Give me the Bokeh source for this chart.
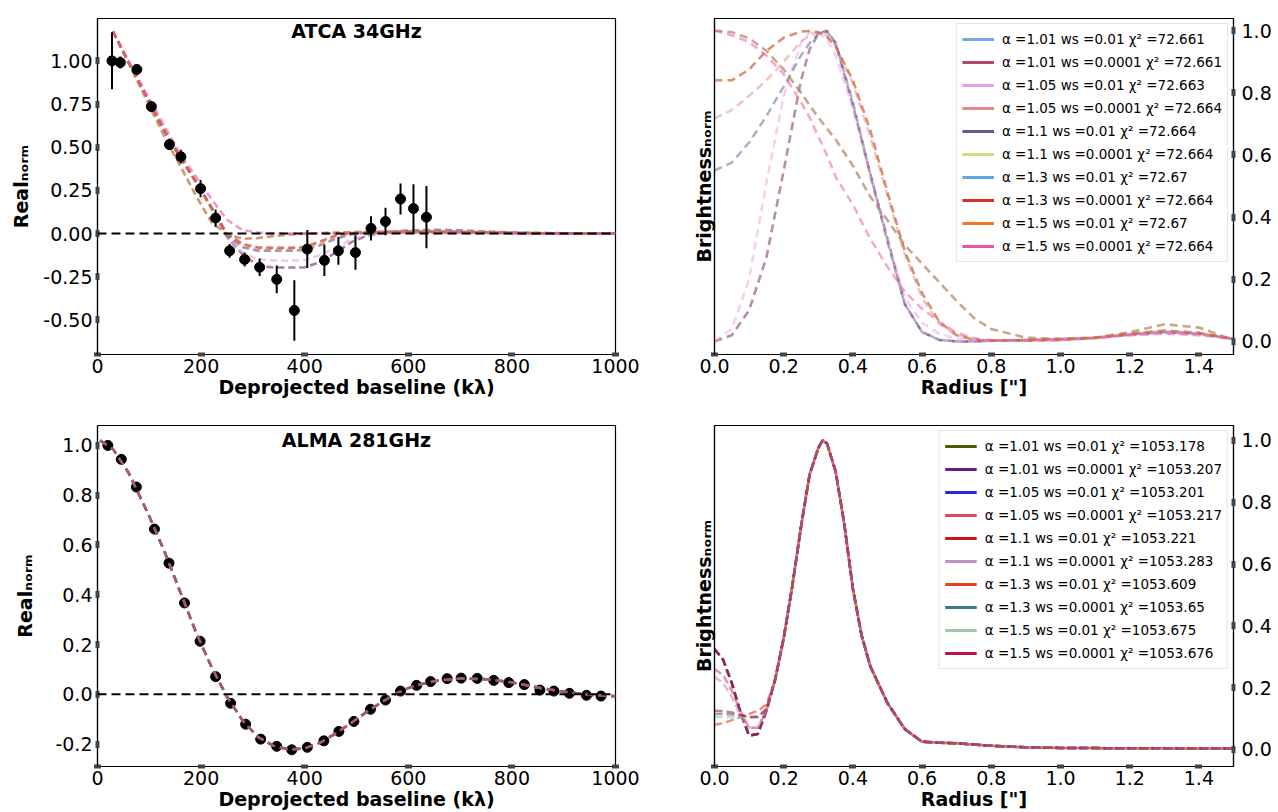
from bokeh.plotting import figure
from bokeh.layouts import column, row
from bokeh.models import (Range1d, FixedTicker, CustomJSTickFormatter, LinearAxis,
                          Span, Label, Legend, LegendItem, ColumnDataSource)
from bokeh.embed import file_html
from bokeh.resources import INLINE

FONT = "DejaVu Sans"

# ---------------- tick labels ----------------
vis_xticks = [0, 200, 400, 600, 800, 1000]
atca_yticks = [-0.5, -0.25, 0.0, 0.25, 0.5, 0.75, 1.0, 1.25]
alma_yticks = [-0.2, 0.0, 0.2, 0.4, 0.6, 0.8, 1.0]
rad_xticks = [0.0, 0.2, 0.4, 0.6, 0.8, 1.0, 1.2, 1.4]
bri_yticks = [0.0, 0.2, 0.4, 0.6, 0.8, 1.0]

# ---------------- legend texts ----------------
fit_alpha = ["1.01", "1.01", "1.05", "1.05", "1.1", "1.1", "1.3", "1.3", "1.5", "1.5"]
fit_ws = ["0.01", "0.0001", "0.01", "0.0001", "0.01", "0.0001", "0.01", "0.0001", "0.01", "0.0001"]
atca_chi2 = ["72.661", "72.661", "72.663", "72.664", "72.664", "72.664", "72.67", "72.664", "72.67", "72.664"]
alma_chi2 = ["1053.178", "1053.207", "1053.201", "1053.217", "1053.221", "1053.283",
             "1053.609", "1053.65", "1053.675", "1053.676"]
atca_colors = ["#70a8e8", "#b84868", "#eaa0e6", "#e08a8a", "#5c5e90",
               "#c8e080", "#60a8e0", "#d83020", "#f07820", "#f050a0"]
alma_colors = ["#4e5a00", "#6a1a8c", "#2828e0", "#d84860", "#c81810",
               "#c090c8", "#e84020", "#3a7890", "#a0c8a8", "#c0104c"]

# ---------------- ATCA 34GHz data ----------------
atca_u = [28, 44, 76, 104, 139, 161, 199, 228, 255, 284, 313, 346, 380, 405, 438, 465,
          498, 528, 556, 585, 610, 635]
atca_re = [1.00, 0.99, 0.95, 0.735, 0.515, 0.445, 0.26, 0.09, -0.10, -0.15, -0.195, -0.265,
           -0.445, -0.09, -0.155, -0.10, -0.11, 0.03, 0.07, 0.20, 0.145, 0.095]
atca_err = [0.165, 0.035, 0.03, 0.03, 0.03, 0.04, 0.05, 0.05, 0.04, 0.04, 0.05, 0.08,
            0.175, 0.11, 0.09, 0.08, 0.10, 0.07, 0.08, 0.09, 0.14, 0.18]

# ATCA model visibilities
atca_mod_u = [30, 60, 100, 130, 160, 190, 220, 250, 280, 310, 340, 370, 400, 430, 460, 490,
              520, 560, 600, 650, 700, 800, 900, 1000]
vis_deep = [1.17, 0.99, 0.76, 0.59, 0.44, 0.30, 0.15, -0.02, -0.12, -0.185, -0.197, -0.197,
            -0.195, -0.165, -0.11, -0.05, -0.012, 0.008, 0.018, 0.022, 0.018, 0.006, 0.002, 0.0]
vis_violet = [1.17, 0.99, 0.76, 0.59, 0.44, 0.30, 0.15, -0.015, -0.11, -0.15, -0.156, -0.157,
              -0.153, -0.125, -0.08, -0.035, -0.008, 0.006, 0.013, 0.015, 0.012, 0.005, 0.001, 0.0]
vis_slate = [1.17, 0.99, 0.76, 0.59, 0.44, 0.30, 0.15, -0.01, -0.08, -0.10, -0.10, -0.10,
             -0.095, -0.068, -0.03, -0.005, 0.005, 0.01, 0.012, 0.012, 0.01, 0.004, 0.001, 0.0]
vis_salmon = [1.17, 0.99, 0.76, 0.59, 0.44, 0.30, 0.15, -0.005, -0.07, -0.088, -0.09, -0.09,
              -0.085, -0.055, -0.018, 0.0, 0.006, 0.009, 0.01, 0.01, 0.008, 0.003, 0.001, 0.0]
vis_mid = [1.17, 0.99, 0.76, 0.59, 0.44, 0.30, 0.15, 0.0, -0.06, -0.08, -0.082, -0.082,
           -0.078, -0.045, -0.01, 0.003, 0.006, 0.008, 0.009, 0.009, 0.007, 0.003, 0.001, 0.0]
vis_broad = [1.17, 0.99, 0.74, 0.555, 0.39, 0.22, 0.065, -0.005, -0.03, -0.026, -0.014, -0.006,
             -0.001, 0.003, 0.006, 0.008, 0.01, 0.012, 0.013, 0.013, 0.01, 0.004, 0.001, 0.0]
vis_pink = [1.17, 1.00, 0.78, 0.62, 0.46, 0.33, 0.20, 0.08, 0.02, 0.006, 0.002, 0.0, 0.0, 0.0,
            0.001, 0.003, 0.004, 0.005, 0.005, 0.004, 0.003, 0.001, 0.0, 0.0]
atca_vis_models = [vis_deep, vis_deep, vis_violet, vis_salmon, vis_slate,
                   vis_mid, vis_broad, vis_mid, vis_broad, vis_pink]

# ATCA brightness profiles
atca_r = [0.0, 0.05, 0.1, 0.15, 0.2, 0.25, 0.275, 0.3, 0.325, 0.35, 0.4, 0.45, 0.5, 0.55,
          0.6, 0.65, 0.7, 0.75, 0.8, 0.9, 1.0, 1.1, 1.2, 1.3, 1.4, 1.5]
bri_narrow = [0.0, 0.02, 0.10, 0.27, 0.55, 0.84, 0.94, 0.99, 1.0, 0.96, 0.76, 0.54, 0.33, 0.12,
              0.03, 0.005, 0.0, 0.0, 0.002, 0.005, 0.008, 0.012, 0.022, 0.03, 0.025, 0.008]
bri_violet = [0.0, 0.04, 0.20, 0.51, 0.79, 0.96, 0.995, 0.995, 0.97, 0.92, 0.75, 0.53, 0.33,
              0.14, 0.06, 0.025, 0.008, 0.003, 0.003, 0.006, 0.008, 0.012, 0.02, 0.028, 0.022, 0.008]
bri_slate = [0.55, 0.575, 0.64, 0.725, 0.82, 0.92, 0.96, 0.99, 0.998, 0.96, 0.77, 0.54, 0.32,
             0.12, 0.03, 0.005, 0.0, 0.0, 0.002, 0.005, 0.008, 0.012, 0.022, 0.03, 0.025, 0.008]
bri_salmon = [0.717, 0.745, 0.79, 0.84, 0.90, 0.965, 0.985, 0.995, 0.985, 0.95, 0.83, 0.66, 0.47,
              0.28, 0.14, 0.055, 0.02, 0.007, 0.003, 0.003, 0.005, 0.012, 0.024, 0.034, 0.027, 0.008]
bri_yg = [0.84, 0.84, 0.875, 0.935, 0.977, 0.997, 0.999, 0.995, 0.98, 0.95, 0.84, 0.68, 0.48,
          0.29, 0.155, 0.063, 0.02, 0.006, 0.003, 0.003, 0.005, 0.012, 0.025, 0.035, 0.028, 0.008]
bri_broad = [1.0, 0.995, 0.975, 0.935, 0.875, 0.80, 0.76, 0.72, 0.685, 0.65, 0.565, 0.466, 0.39,
             0.31, 0.25, 0.19, 0.13, 0.075, 0.04, 0.012, 0.008, 0.012, 0.03, 0.055, 0.045, 0.005]
bri_pink = [1.0, 0.985, 0.963, 0.92, 0.86, 0.77, 0.72, 0.66, 0.60, 0.53, 0.44, 0.33, 0.24, 0.16,
            0.105, 0.063, 0.028, 0.01, 0.004, 0.002, 0.004, 0.01, 0.02, 0.025, 0.02, 0.008]
atca_bri_models = [bri_narrow, bri_narrow, bri_violet, bri_salmon, bri_slate,
                   bri_yg, bri_broad, bri_yg, bri_broad, bri_pink]

# ---------------- ALMA 281GHz data ----------------
alma_u = [20, 46, 75, 110, 138, 168, 198, 228, 257, 286, 315, 346, 375, 405, 437, 466, 495,
          527, 556, 585, 616, 643, 675, 702, 733, 765, 794, 824, 854, 881, 911, 944, 972]
alma_re = [1.00, 0.944, 0.833, 0.664, 0.527, 0.367, 0.213, 0.071, -0.036, -0.12, -0.18, -0.209,
           -0.223, -0.213, -0.187, -0.149, -0.109, -0.06, -0.023, 0.013, 0.036, 0.051, 0.063,
           0.065, 0.064, 0.056, 0.047, 0.039, 0.017, 0.013, 0.004, -0.004, -0.007]
alma_mod_u = [5, 30, 60, 100, 130, 160, 190, 220, 250, 280, 310, 340, 370, 400, 430, 460, 490,
              520, 550, 580, 610, 650, 700, 750, 800, 850, 900, 950, 1000]
alma_mod_re = [1.02, 0.985, 0.89, 0.715, 0.57, 0.41, 0.25, 0.11, -0.01, -0.105, -0.172, -0.207,
               -0.222, -0.217, -0.194, -0.157, -0.115, -0.07, -0.03, 0.007, 0.033, 0.053, 0.064,
               0.061, 0.048, 0.027, 0.01, -0.002, -0.008]

alma_r = [0.0, 0.025, 0.05, 0.075, 0.1, 0.125, 0.15, 0.175, 0.2, 0.225, 0.25, 0.275, 0.3, 0.3125,
          0.325, 0.35, 0.375, 0.4, 0.425, 0.45, 0.5, 0.55, 0.6, 0.65, 0.7, 0.8, 0.9, 1.0, 1.2, 1.5]
alma_bri_core = [0.225, 0.36, 0.53, 0.72, 0.89, 0.975, 1.0, 0.99, 0.90, 0.73, 0.52, 0.37, 0.27,
                 0.15, 0.066, 0.025, 0.022, 0.02, 0.012, 0.007, 0.005, 0.004, 0.003]
alma_centre_peaked = [0.325, 0.29, 0.215, 0.12, 0.045, 0.05, 0.125]
alma_centre_a105 = [0.26, 0.24, 0.19, 0.125, 0.07, 0.07, 0.125]
alma_centre_a110 = [0.235, 0.215, 0.17, 0.11, 0.07, 0.072, 0.125]
alma_centre_a13a = [0.08, 0.085, 0.095, 0.105, 0.115, 0.125, 0.145]
alma_centre_a13b = [0.115, 0.115, 0.113, 0.11, 0.105, 0.105, 0.13]
alma_centre_a15a = [0.105, 0.105, 0.105, 0.104, 0.103, 0.107, 0.13]
alma_centre_a15b = [0.125, 0.124, 0.12, 0.112, 0.105, 0.105, 0.13]
alma_centres = [alma_centre_peaked, alma_centre_peaked, alma_centre_peaked, alma_centre_a105,
                alma_centre_peaked, alma_centre_a110, alma_centre_a13a, alma_centre_a13b,
                alma_centre_a15a, alma_centre_a15b]


# ---------------- helpers ----------------
def fmt(nd):
    return CustomJSTickFormatter(code="return tick.toFixed(%d);" % nd)


def style_axis(ax):
    ax.axis_line_color = "black"
    ax.axis_line_width = 1.2
    ax.major_tick_line_color = "#444444"
    ax.major_tick_line_width = 7
    ax.major_tick_in = 2
    ax.major_tick_out = 2
    ax.minor_tick_line_color = None
    ax.major_label_text_font = FONT
    ax.major_label_text_font_size = "19px"
    ax.major_label_text_color = "black"
    ax.major_label_standoff = 3
    ax.axis_label_text_font = FONT
    ax.axis_label_text_font_style = "bold"
    ax.axis_label_text_font_size = "19px"
    ax.axis_label_text_color = "black"


def make_fig(w, h, xr, yr, bl, br, bt, bb, yloc="left"):
    p = figure(width=w, height=h, x_range=Range1d(*xr), y_range=Range1d(*yr),
               output_backend="svg", toolbar_location=None, y_axis_location=yloc,
               min_border_left=bl, min_border_right=br, min_border_top=bt, min_border_bottom=bb)
    p.grid.visible = False
    p.outline_line_color = "black"
    p.outline_line_width = 1.2
    p.outline_line_alpha = 1.0
    p.background_fill_color = "white"
    p.border_fill_color = "white"
    return p


def vis_panel(h, bt, bb, yr, yticks, ynd, ylabel_standoff, title, title_y):
    p = make_fig(658, h, (0, 1000), yr, 97, 43, bt, bb)
    style_axis(p.xaxis[0])
    style_axis(p.yaxis[0])
    p.xaxis.ticker = FixedTicker(ticks=vis_xticks)
    p.xaxis.formatter = fmt(0)
    p.xaxis.axis_label = "Deprojected baseline (kλ)"
    p.xaxis.axis_label_standoff = 0
    p.xaxis.major_label_standoff = 2
    p.yaxis.ticker = FixedTicker(ticks=yticks)
    p.yaxis.formatter = fmt(ynd)
    p.yaxis.axis_label = "Realₙₒᵣₘ"
    p.yaxis.axis_label_standoff = ylabel_standoff
    p.add_layout(Span(location=0, dimension="width", line_color="black",
                      line_dash="9 5", line_width=2))
    p.add_layout(Label(x=500, y=title_y, text=title, text_align="center",
                       text_baseline="middle", text_font=FONT, text_font_style="bold",
                       text_font_size="19px", text_color="black"))
    return p


def bri_panel(h, bt, bb, yr):
    p = make_fig(620, h, (0, 1.5), yr, 56, 45, bt, bb, yloc="right")
    style_axis(p.xaxis[0])
    style_axis(p.yaxis[0])
    p.xaxis.ticker = FixedTicker(ticks=rad_xticks)
    p.xaxis.formatter = fmt(1)
    p.xaxis.axis_label = 'Radius ["]'
    p.xaxis.axis_label_standoff = 0
    p.xaxis.major_label_standoff = 2
    p.yaxis.ticker = FixedTicker(ticks=bri_yticks)
    p.yaxis.formatter = fmt(1)
    p.yaxis.major_label_standoff = 6
    left = LinearAxis(axis_label="Brightnessₙₒᵣₘ", ticker=FixedTicker(ticks=[]))
    style_axis(left)
    left.major_tick_line_color = None
    left.major_tick_in = 0
    left.major_tick_out = 0
    left.major_label_standoff = 0
    left.axis_label_standoff = 0
    p.add_layout(left, "left")
    return p


def add_legend(p, labels, colors):
    items = []
    for lab, col in zip(labels, colors):
        # legend swatch only: a single NaN point, so nothing is drawn in the frame
        r = p.line(x=[float("nan")], y=[float("nan")], line_color=col, line_width=3)
        items.append(LegendItem(label=lab, renderers=[r]))
    leg = Legend(items=items, location="top_right", label_text_font=FONT,
                 label_text_font_size="13.5px", label_text_color="black",
                 glyph_width=32, glyph_height=20, label_height=20, spacing=3,
                 padding=5, margin=5, label_standoff=8,
                 border_line_color="#cccccc", border_line_width=1,
                 background_fill_color="white", background_fill_alpha=0.85)
    p.add_layout(leg)


# ---------------- top-left: ATCA visibilities ----------------
p_tl = vis_panel(404, 18, 50, (-0.70, 1.245), atca_yticks, 2, 8, "ATCA 34GHz", 1.173)
atca_src = ColumnDataSource(dict(u=atca_u, re=atca_re,
                                 lo=[y - e for y, e in zip(atca_re, atca_err)],
                                 hi=[y + e for y, e in zip(atca_re, atca_err)]))
for ys, col in zip(atca_vis_models, atca_colors):
    p_tl.line(atca_mod_u, ys, line_color=col, line_alpha=0.6, line_width=2.5, line_dash="7 4")
p_tl.segment(x0="u", y0="lo", x1="u", y1="hi", source=atca_src, line_color="black", line_width=2)
p_tl.scatter("u", "re", source=atca_src, size=10, fill_color="black", line_color="black")

# ---------------- top-right: ATCA brightness ----------------
p_tr = bri_panel(404, 18, 50, (-0.042, 1.039))
for ys, col in zip(atca_bri_models, atca_colors):
    p_tr.line(atca_r, ys, line_color=col, line_alpha=0.5, line_width=2.5, line_dash="8 5")
add_legend(p_tr, ["α =%s ws =%s χ² =%s" % (a, w, c) for a, w, c in zip(fit_alpha, fit_ws, atca_chi2)],
           atca_colors)

# ---------------- bottom-left: ALMA visibilities ----------------
p_bl = vis_panel(408, 21, 44, (-0.29, 1.08), alma_yticks, 1, 16, "ALMA 281GHz", 1.02)
p_bl.scatter(alma_u, alma_re, size=10, fill_color="black", line_color="black")
for col in alma_colors:
    p_bl.line(alma_mod_u, alma_mod_re, line_color=col, line_alpha=0.35, line_width=2.5,
              line_dash="8 5")

# ---------------- bottom-right: ALMA brightness ----------------
p_br = bri_panel(408, 21, 44, (-0.055, 1.048))
for centre, col in zip(alma_centres, alma_colors):
    p_br.line(alma_r, centre + alma_bri_core, line_color=col, line_alpha=0.6, line_width=2.5,
              line_dash="8 4")
add_legend(p_br, ["α =%s ws =%s χ² =%s" % (a, w, c) for a, w, c in zip(fit_alpha, fit_ws, alma_chi2)],
           alma_colors)

layout = column(row(p_tl, p_tr), row(p_bl, p_br))
open("out.html", "w").write(file_html(layout, INLINE))
